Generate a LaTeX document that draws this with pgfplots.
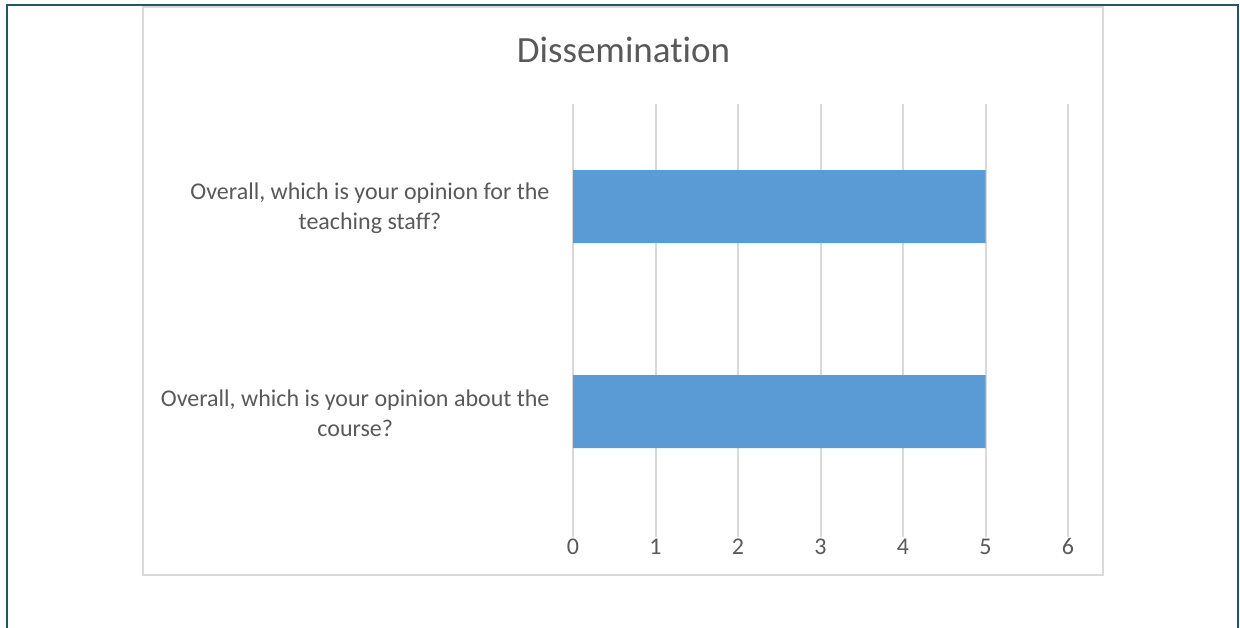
\documentclass[border=0pt]{standalone}
\usepackage{pgfplots}
\pgfplotsset{compat=1.18}
\usepackage{fontspec}
\setmainfont{Carlito}[RawFeature={-liga;-clig;-calt;-dlig}]
\definecolor{txt}{HTML}{595959}
\definecolor{barblue}{HTML}{5B9BD5}
\definecolor{gridgray}{HTML}{D9D9D9}
\definecolor{frameteal}{RGB}{33,88,104}
\begin{document}
\begin{tikzpicture}
\useasboundingbox (0bp,0bp) rectangle (1240bp,-628bp);
% outer frame (bottom cut off)
\draw[frameteal, line width=2.2bp] (7bp,-640bp) -- (7bp,-5bp) -- (1238bp,-5bp) -- (1238bp,-640bp);
% chart area
\draw[gridgray, line width=2bp] (143bp,-6.5bp) rectangle (1103bp,-575bp);
\node[txt, font=\fontsize{37bp}{44bp}\selectfont, anchor=base] at (623.5bp,-62bp) {Dissemination};
\begin{axis}[
  at={(573bp,-537bp)}, anchor=south west,
  scale only axis, width=495bp, height=433bp,
  xbar, bar width=73bp,
  xmin=0, xmax=6, ymin=-0.612, ymax=1.5,
  xtick={0,1,2,3,4,5,6},
  ytick={0,1},
  yticklabels={{Overall, which is your opinion about the\\course?},{Overall, which is your opinion for the\\teaching staff?}},
  axis line style={draw=none},
  tick style={draw=none},
  xmajorgrids,
  major grid style={draw=gridgray, line width=2bp},
  /pgf/number format/assume math mode=true,
  xticklabel style={txt, font=\fontsize{24bp}{30bp}\selectfont, inner sep=0pt, anchor=north, yshift=-1.5bp},
  yticklabel style={txt, font=\fontsize{24bp}{30bp}\selectfont, inner sep=0pt, anchor=east, align=center, xshift=-19bp, yshift=-2bp},
]
\addplot[draw=none, fill=barblue] coordinates {(5,0) (5,1)};
\end{axis}
\end{tikzpicture}
\end{document}
